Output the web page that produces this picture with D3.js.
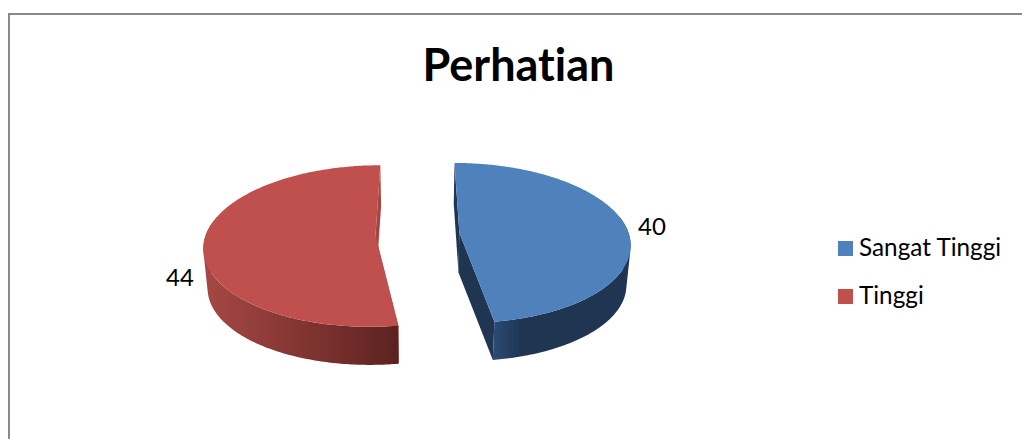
<!DOCTYPE html>
<html><head><meta charset="utf-8">
<script src="https://cdn.jsdelivr.net/npm/d3@7"></script>
<style>html,body{margin:0;padding:0;background:#fff;overflow:hidden}svg{display:block}text{font-family:Lato,"Open Sans",sans-serif;fill:#000;font-variant-ligatures:none}</style>
</head><body><svg id="c" width="1022" height="439"></svg>
<script>
const chartTitle = "Perhatian";
const categories = ["Sangat Tinggi", "Tinggi"];
const values = [40, 44];
const topColors = ["#4F81BD", "#C0504D"];
const cutColors = ["#1F3552", "#A84542"];
const rimStops = [["#2C4A72", "#1F3552", "#1F3552"], ["#A64845", "#7F3331", "#5C2220"]];

const svg = d3.select("#c");
// chart frame (open at right and bottom, as cropped)
svg.append("path").attr("d", d3.line()([[9, 439], [9, 14], [1022, 14]]))
  .attr("fill", "none").attr("stroke", "#8a8a8a").attr("stroke-width", 2);

svg.append("text").attr("x", 518.5).attr("y", 81).attr("text-anchor", "middle")
  .attr("font-size", 45).attr("font-weight", 700).text(chartTitle);

// projected 3D pie
const cx = 417.5, cy = 234, Rx = 169.5, Ry = 79, persp = 0.13, depth = 40, lowerScale = 0.98, explode = 0.248;
function project(X, Y, lower) {
  const d = 1 - persp * Y, s = lower ? lowerScale : 1;
  return [cx + s * Rx * X / d, cy + (lower ? depth : 0) + s * Ry * Y / d];
}
const pie = d3.pie().sort(null).startAngle(0).endAngle(2 * Math.PI);
const arcs = pie(values);
const line = d3.line();
const defs = svg.append("defs");

function slicePts(a) {
  const mid = (a.startAngle + a.endAngle) / 2;
  const ox = explode * Math.sin(mid), oy = -explode * Math.cos(mid);
  const ts = d3.range(0, 241).map(i => a.startAngle + (a.endAngle - a.startAngle) * i / 240);
  const rim = ts.map(t => [ox + Math.sin(t), oy - Math.cos(t)]);
  return { c: [ox, oy], rim };
}
const P = (p, low) => project(p[0], p[1], low);

arcs.forEach((a, i) => {
  const s = slicePts(a);
  const first = s.rim[0], last = s.rim[s.rim.length - 1];
  const g = svg.append("g");
  // side walls of the cut
  [first, last].forEach(e => {
    g.append("path").attr("fill", cutColors[i === 0 ? 0 : 1])
      .attr("d", line([P(s.c), P(e), P(e, true), P(s.c, true)]) + "Z");
  });
  // outer rim: only the part that faces the viewer, swept as quads so the silhouette is filled
  const id = "rim" + i;
  const frontPts = s.rim.filter(p => p[1] > s.c[1] - 0.2);
  const xs = frontPts.map(p => P(p)[0]);
  const grad = defs.append("linearGradient").attr("id", id).attr("gradientUnits", "userSpaceOnUse")
    .attr("x1", d3.min(xs)).attr("x2", d3.max(xs)).attr("y1", 0).attr("y2", 0);
  rimStops[i].forEach((c, k) => grad.append("stop")
    .attr("offset", i === 0 ? [0, 0.2, 1][k] : [0, 0.55, 1][k]).attr("stop-color", c));
  const quads = d3.pairs(frontPts).map(([u, v]) => {
    const q = [P(u), P(v), P(v, true), P(u, true)];
    if (d3.polygonArea(q) < 0) q.reverse();
    return line(q) + "Z";
  }).join("");
  g.append("path").attr("fill", `url(#${id})`).attr("d", quads);
  // top face
  g.append("path").attr("fill", topColors[i])
    .attr("d", line([P(s.c)].concat(s.rim.map(p => P(p)))) + "Z");
});

// data labels
const labelPos = [[652, 235], [180, 286]];
values.forEach((v, i) => svg.append("text").attr("x", labelPos[i][0]).attr("y", labelPos[i][1])
  .attr("text-anchor", "middle").attr("font-size", 24).text(v));

// legend
const legend = svg.selectAll("g.l").data(categories).join("g").attr("class", "l")
  .attr("transform", (d, i) => `translate(838,${241 + i * 48})`);
legend.append("rect").attr("width", 15).attr("height", 15).attr("fill", (d, i) => topColors[i]);
legend.append("text").attr("x", 21).attr("y", 15).attr("font-size", 24.3).text(d => d);
</script></body></html>
